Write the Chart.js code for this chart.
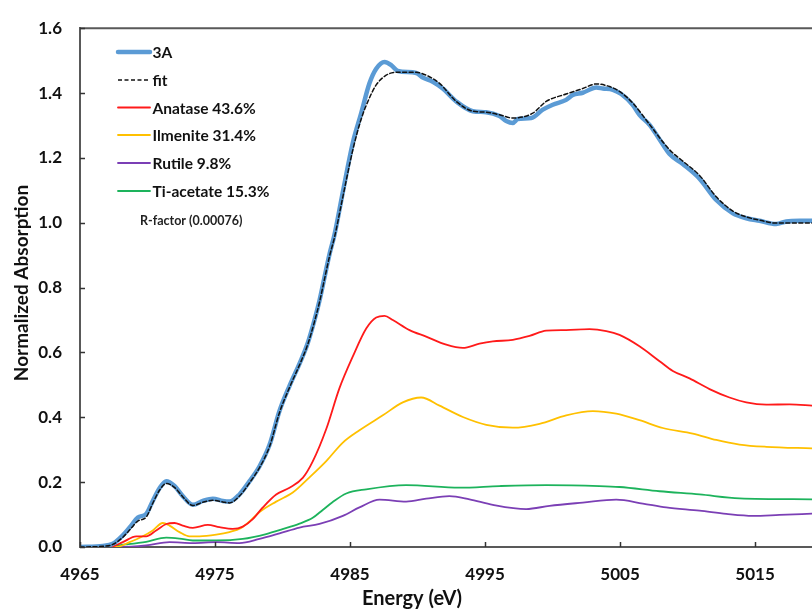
<!DOCTYPE html>
<html>
<head>
<meta charset="utf-8">
<script src="https://cdn.jsdelivr.net/npm/chart.js@4.4.1/dist/chart.umd.min.js"></script>
<style>
html,body{margin:0;padding:0;background:#fff;overflow:hidden;}
#wrap{position:relative;width:812px;height:610px;}
</style>
</head>
<body>
<div id="wrap"><canvas id="c" width="812" height="610"></canvas></div>
<script>
// ---- data ----
const xTickLabels = [4965, 4975, 4985, 4995, 5005, 5015];
const yTickLabels = [0.0, 0.2, 0.4, 0.6, 0.8, 1.0, 1.2, 1.4, 1.6];

const seriesNames = ["3A", "fit", "Anatase 43.6%", "Ilmenite 31.4%", "Rutile 9.8%", "Ti-acetate 15.3%"];
const rFactorText = "R-factor (0.00076)";

const e3A = [4965.0,4966.69,4967.43,4968.17,4968.79,4969.28,4969.90,4970.39,4970.89,4971.39,4972.00,4972.61,4973.36,4974.10,4974.84,4975.58,4976.07,4976.81,4977.56,4978.30,4979.04,4979.78,4980.52,4981.39,4981.87,4982.37,4982.74,4983.11,4983.48,4983.85,4984.47,4985.21,4985.83,4986.44,4986.94,4987.56,4988.05,4988.54,4989.90,4990.39,4991.13,4991.87,4992.87,4994.10,4995.09,4996.07,4996.57,4997.06,4997.43,4998.42,4999.28,5000.02,5001.01,5001.50,5002.24,5003.24,5003.73,5004.47,5005.09,5005.95,5006.44,5007.19,5007.93,5008.67,5009.65,5010.89,5012.13,5013.36,5014.35,5015.33,5016.57,5017.31,5018.30,5019.3];
const a3A = [0,0.003,0.010,0.036,0.066,0.091,0.102,0.142,0.181,0.203,0.188,0.157,0.130,0.142,0.149,0.142,0.140,0.162,0.203,0.249,0.315,0.420,0.497,0.578,0.629,0.700,0.760,0.832,0.903,0.963,1.095,1.247,1.338,1.430,1.475,1.496,1.486,1.468,1.462,1.448,1.435,1.414,1.374,1.344,1.341,1.329,1.314,1.308,1.320,1.323,1.349,1.364,1.379,1.394,1.401,1.417,1.414,1.410,1.397,1.363,1.333,1.302,1.257,1.212,1.181,1.136,1.070,1.029,1.014,1.006,0.996,1.004,1.006,1.006];

const eFit = [4965.0,4966.69,4967.43,4968.17,4968.79,4969.28,4969.90,4970.39,4970.89,4971.39,4972.00,4972.61,4973.36,4974.10,4974.84,4975.58,4976.07,4976.81,4977.56,4978.30,4979.04,4979.78,4980.52,4981.39,4981.87,4982.37,4982.74,4983.11,4983.48,4983.85,4984.47,4985.21,4985.83,4986.44,4986.94,4987.68,4988.42,4989.90,4990.64,4991.63,4992.87,4994.10,4995.09,4996.07,4997.06,4998.54,4999.53,5001.01,5002.24,5003.24,5004.22,5004.96,5005.95,5007.19,5008.67,5009.65,5010.89,5012.13,5013.36,5014.35,5015.33,5016.57,5018.30,5019.3];
const aFit = [0,0.002,0.008,0.030,0.058,0.080,0.092,0.135,0.175,0.196,0.184,0.155,0.128,0.138,0.144,0.139,0.136,0.157,0.198,0.245,0.310,0.415,0.492,0.574,0.625,0.695,0.755,0.826,0.896,0.955,1.080,1.225,1.320,1.385,1.425,1.455,1.464,1.464,1.455,1.430,1.374,1.344,1.341,1.333,1.323,1.338,1.374,1.397,1.414,1.428,1.420,1.405,1.369,1.303,1.225,1.190,1.146,1.080,1.036,1.018,1.008,0.999,0.999,0.999];

const eAnatase = [4965.0,4967.19,4968.17,4969.16,4969.90,4970.64,4971.39,4972.00,4972.61,4973.36,4974.47,4975.33,4976.32,4977.06,4977.80,4978.54,4979.53,4980.52,4981.50,4982.24,4983.24,4984.22,4985.21,4986.20,4986.94,4987.56,4988.17,4989.41,4990.64,4992.13,4993.36,4994.59,4995.58,4997.06,4998.30,4999.53,5001.01,5002.74,5003.98,5004.96,5006.44,5007.93,5008.91,5010.15,5011.63,5013.11,5014.35,5015.83,5017.56,5019.3];
const aAnatase = [0,0,0.015,0.033,0.033,0.051,0.071,0.074,0.066,0.059,0.068,0.061,0.056,0.063,0.086,0.122,0.162,0.183,0.213,0.264,0.364,0.490,0.588,0.674,0.708,0.713,0.700,0.669,0.649,0.624,0.614,0.627,0.634,0.639,0.651,0.667,0.669,0.672,0.666,0.654,0.619,0.573,0.543,0.520,0.487,0.461,0.446,0.439,0.440,0.436];

const eIlmenite = [4965.0,4967.68,4968.67,4969.65,4970.39,4971.13,4971.63,4972.37,4973.11,4973.85,4975.09,4976.07,4976.94,4977.56,4978.30,4979.53,4980.76,4982.00,4983.24,4984.47,4985.70,4987.43,4988.91,4990.27,4991.63,4993.36,4995.09,4997.06,4999.04,5001.01,5002.99,5004.72,5006.44,5008.17,5010.39,5012.13,5013.85,5015.83,5019.3];
const aIlmenite = [0,0,0.015,0.033,0.051,0.074,0.066,0.046,0.033,0.033,0.038,0.046,0.059,0.079,0.108,0.140,0.168,0.215,0.265,0.322,0.360,0.406,0.446,0.461,0.436,0.401,0.377,0.368,0.380,0.406,0.419,0.411,0.391,0.367,0.350,0.330,0.316,0.309,0.304];

const eRutile = [4965.0,4967.93,4969.90,4971.63,4973.36,4975.09,4976.81,4978.30,4979.78,4981.26,4982.74,4984.47,4985.70,4987.19,4989.16,4990.64,4992.36,4993.85,4995.58,4998.05,4999.78,5002.24,5004.72,5006.69,5008.42,5010.89,5012.87,5014.84,5016.81,5019.3];
const aRutile = [0,0,0.005,0.015,0.012,0.015,0.012,0.025,0.042,0.060,0.071,0.096,0.122,0.146,0.140,0.149,0.157,0.147,0.130,0.117,0.127,0.137,0.146,0.134,0.122,0.112,0.102,0.096,0.099,0.103];

const eTiAcetate = [4965.0,4966.44,4968.42,4969.90,4971.39,4972.37,4973.36,4975.09,4977.06,4978.79,4980.00,4981.26,4982.24,4983.00,4983.70,4984.72,4986.20,4989.16,4993.11,4996.07,4999.53,5003.48,5004.96,5007.93,5010.89,5013.85,5019.3];
const aTiAcetate = [0,0,0.008,0.016,0.029,0.026,0.020,0.020,0.025,0.040,0.055,0.072,0.090,0.115,0.138,0.165,0.178,0.191,0.183,0.188,0.191,0.188,0.185,0.172,0.162,0.150,0.147];

// ---- build chart ----
function pts(xs, ys){ return xs.map((x,i)=>({x:x, y:ys[i]})); }

const styles = [
  {color:'#5B9BD5', width:4.5, dash:[],    order:1},
  {color:'#111111', width:1.5, dash:[4,2.5], order:0},
  {color:'#FF1A1A', width:1.8, dash:[],    order:2},
  {color:'#FFC000', width:1.8, dash:[],    order:3},
  {color:'#7B3FB5', width:1.8, dash:[],    order:4},
  {color:'#1DB35C', width:1.8, dash:[],    order:5}
];
const dataPairs = [[e3A,a3A],[eFit,aFit],[eAnatase,aAnatase],[eIlmenite,aIlmenite],[eRutile,aRutile],[eTiAcetate,aTiAcetate]];

const datasets = seriesNames.map((name,i)=>({
  label: name,
  data: pts(dataPairs[i][0], dataPairs[i][1]),
  borderColor: styles[i].color,
  borderWidth: styles[i].width,
  borderDash: styles[i].dash,
  order: styles[i].order,
  pointRadius: 0,
  fill: false,
  cubicInterpolationMode: 'monotone',
  borderCapStyle: 'round',
  borderJoinStyle: 'round'
}));

const FONT = 'Lato, "Open Sans", sans-serif';
const AXIS_COLOR = '#595959';

const decorPlugin = {
  id: 'decor',
  afterDraw(chart){
    const ctx = chart.ctx;
    const ca = chart.chartArea;
    const xs = chart.scales.x, ys = chart.scales.y;
    ctx.save();
    // top border
    ctx.strokeStyle = AXIS_COLOR;
    ctx.lineWidth = 2;
    ctx.beginPath();
    ctx.moveTo(ca.left, ca.top);
    ctx.lineTo(ca.right + 2, ca.top);
    ctx.stroke();
    // inward tick marks
    ctx.lineWidth = 1.5;
    ctx.strokeStyle = '#333';
    xTickLabels.forEach(v=>{
      const px = Math.round(xs.getPixelForValue(v)) + 0.5;
      ctx.beginPath(); ctx.moveTo(px, ca.bottom); ctx.lineTo(px, ca.bottom - 5); ctx.stroke();
    });
    yTickLabels.forEach(v=>{
      const py = Math.round(ys.getPixelForValue(v)) + 0.5;
      ctx.beginPath(); ctx.moveTo(ca.left, py); ctx.lineTo(ca.left + 5, py); ctx.stroke();
    });
    // axis titles
    ctx.fillStyle = '#111';
    ctx.textAlign = 'center';
    ctx.textBaseline = 'middle';
    ctx.font = 'bold 20px ' + FONT;
    ctx.fillText('Energy (eV)', 412, 599);
    ctx.save();
    ctx.translate(22, 283);
    ctx.rotate(-Math.PI/2);
    ctx.font = 'bold 19px ' + FONT;
    ctx.fillText('Normalized Absorption', 0, 0);
    ctx.restore();
    // legend
    const rowY = [52, 80, 107.5, 135, 163, 191];
    ctx.textAlign = 'left';
    ctx.font = 'bold 15.5px ' + FONT;
    chart.data.datasets.forEach((ds,i)=>{
      const y = rowY[i];
      ctx.strokeStyle = ds.borderColor;
      ctx.lineWidth = ds.borderWidth;
      ctx.setLineDash(ds.borderDash || []);
      ctx.lineCap = (ds.borderDash && ds.borderDash.length) ? 'butt' : 'round';
      ctx.beginPath(); ctx.moveTo(118, y); ctx.lineTo(150, y); ctx.stroke();
      ctx.setLineDash([]);
      ctx.fillStyle = '#111';
      ctx.fillText(ds.label, 152.5, y + 1);
    });
    ctx.font = 'bold 12.5px ' + FONT;
    ctx.fillStyle = '#222';
    ctx.fillText(rFactorText, 140, 221);
    ctx.restore();
  }
};

new Chart(document.getElementById('c'), {
  type: 'line',
  data: { datasets: datasets },
  options: {
    responsive: false,
    animation: false,
    events: [],
    layout: { padding: { top: 21, right: 0, left: 0, bottom: 0 } },
    plugins: { legend: { display: false }, tooltip: { enabled: false }, title: { display: false } },
    scales: {
      x: {
        type: 'linear',
        min: 4965,
        max: 5019.22,
        afterFit(s){ s.height = 63; },
        afterBuildTicks(s){ s.ticks = xTickLabels.map(v=>({value:v})); },
        grid: { display: true, drawOnChartArea: false, drawTicks: false },
        border: { display: true, color: AXIS_COLOR, width: 2 },
        ticks: {
          padding: 17,
          color: '#111',
          font: { family: FONT, size: 17, weight: 'bold' },
          callback: v => String(v),
          maxRotation: 0,
          autoSkip: false
        }
      },
      y: {
        type: 'linear',
        min: 0,
        max: 1.6,
        afterFit(s){ s.width = 80; },
        afterBuildTicks(s){ s.ticks = yTickLabels.map(v=>({value:v})); },
        grid: { display: true, drawOnChartArea: false, drawTicks: false },
        border: { display: true, color: AXIS_COLOR, width: 2 },
        ticks: {
          padding: 18,
          color: '#111',
          font: { family: FONT, size: 17, weight: 'bold' },
          callback: v => Number(v).toFixed(1),
          autoSkip: false
        }
      }
    }
  },
  plugins: [decorPlugin]
});
</script>
</body>
</html>
